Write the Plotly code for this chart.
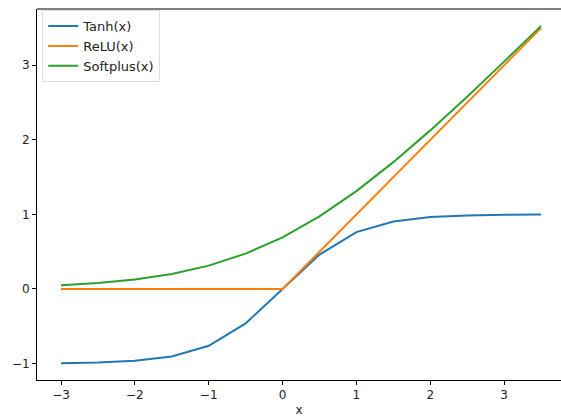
import plotly.graph_objects as go

x_vals = [-3.0, -2.5, -2.0, -1.5, -1.0, -0.5, 0.0, 0.5, 1.0, 1.5, 2.0, 2.5, 3.0, 3.5]
tanh_vals = [-0.995, -0.987, -0.964, -0.905, -0.762, -0.462, 0.0, 0.462, 0.762, 0.905, 0.964, 0.987, 0.995, 0.998]
relu_vals = [0.0, 0.0, 0.0, 0.0, 0.0, 0.0, 0.0, 0.5, 1.0, 1.5, 2.0, 2.5, 3.0, 3.5]
softplus_vals = [0.049, 0.079, 0.127, 0.201, 0.313, 0.474, 0.693, 0.974, 1.313, 1.701, 2.127, 2.579, 3.049, 3.529]

x_ticks = [-3, -2, -1, 0, 1, 2, 3]
y_ticks = [-1, 0, 1, 2, 3]

series = [
    ("Tanh(x)", tanh_vals, "#1f77b4"),
    ("ReLU(x)", relu_vals, "#ff7f0e"),
    ("Softplus(x)", softplus_vals, "#2ca02c"),
]

fig = go.Figure()
for name, vals, color in series:
    fig.add_trace(go.Scatter(x=x_vals, y=vals, mode="lines", name=name,
                             line=dict(color=color, width=2)))

def lab(v):
    return ("\u2212" + str(abs(v))) if v < 0 else str(v)

axis_common = dict(showgrid=False, zeroline=False, showline=True, linecolor="black",
                   linewidth=1, ticks="outside", ticklen=4, tickcolor="black",
                   tickfont=dict(family="DejaVu Sans", size=12, color="#222"))

fig.update_layout(
    width=561, height=418,
    margin=dict(l=37, r=0, t=9, b=38),
    paper_bgcolor="white", plot_bgcolor="white",
    font=dict(family="DejaVu Sans", size=12, color="#222"),
    xaxis=dict(range=[-3.325, 3.77], tickvals=x_ticks, ticktext=[lab(v) for v in x_ticks],
               title=dict(text="x", standoff=4, font=dict(size=12)), **axis_common),
    yaxis=dict(range=[-1.221, 3.755], tickvals=y_ticks, ticktext=[lab(v) for v in y_ticks],
               **axis_common),
    legend=dict(x=0.01, y=0.997, xanchor="left", yanchor="top",
                bgcolor="rgba(255,255,255,0.8)", bordercolor="#ddd", borderwidth=1,
                font=dict(family="DejaVu Sans", size=13, color="#222"),
                itemwidth=30, tracegroupgap=0),
    shapes=[dict(type="line", xref="paper", yref="paper", x0=0, x1=1, y0=1, y1=1,
                 line=dict(color="black", width=1))],
    showlegend=True,
)

fig.write_html("out.html")
